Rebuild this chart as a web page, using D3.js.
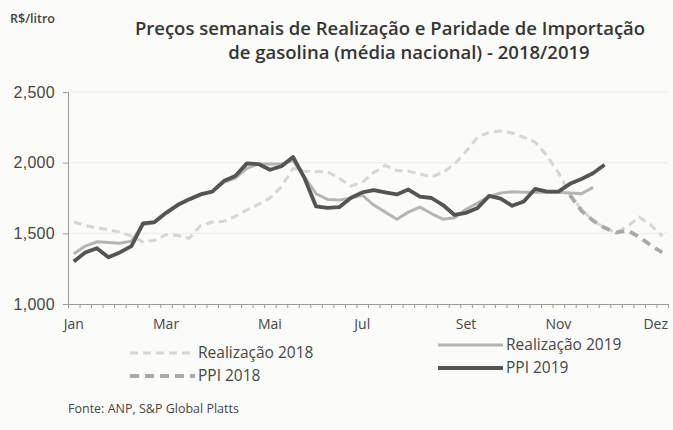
<!DOCTYPE html>
<html>
<head>
<meta charset="utf-8">
<script src="https://cdn.jsdelivr.net/npm/d3@7"></script>
<style>
  body { margin: 0; background: #fbfbf9; }
  svg { display: block; font-family: "Open Sans", "Noto Sans", sans-serif; }
</style>
</head>
<body>
<div id="chart"></div>
<script>
const weeks = d3.range(1, 53);
const monthLabels = ["Jan", "Mar", "Mai", "Jul", "Set", "Nov", "Dez"];
const monthWeeks = [1, 9, 18, 26, 35, 43, 52];
const yTicks = [1000, 1500, 2000, 2500];

const realizacao2018 = [
  1580, 1555, 1540, 1525, 1510, 1480, 1440, 1450, 1490, 1485,
  1465, 1555, 1580, 1585, 1620, 1665, 1705, 1750, 1830, 1960,
  1940, 1935, 1935, 1890, 1835, 1860, 1930, 1980, 1945, 1940,
  1920, 1900, 1930, 1990, 2080, 2180, 2215, 2225, 2210, 2180,
  2145, 2050, 1930, 1775, 1670, 1590, 1540, 1505, 1550, 1615,
  1560, 1480,
];
const ppi2018 = [
  null, null, null, null, null, null, null, null, null, null,
  null, null, null, null, null, null, null, null, null, null,
  null, null, null, null, null, null, null, null, null, null,
  null, null, null, null, null, null, null, null, null, null,
  null, null, null, 1770, 1660, 1590, 1540, 1505, 1520, 1475,
  1415, 1365,
];
const realizacao2019 = [
  1355, 1410, 1440, 1435, 1430, 1445, 1560, 1575, 1645, 1705,
  1745, 1780, 1795, 1860, 1890, 1960, 1990, 1990, 1990, 2015,
  1900, 1780, 1740, 1735, 1750, 1770, 1700, 1650, 1600, 1650,
  1685, 1640, 1600, 1610, 1670, 1715, 1760, 1785, 1795, 1790,
  1790, 1790, 1790, 1785, 1780, 1825,
];
const ppi2019 = [
  1300, 1365, 1395, 1330, 1365, 1410, 1570, 1580, 1645, 1700,
  1740, 1775, 1795, 1870, 1905, 1995, 1990, 1950, 1975, 2040,
  1890, 1690, 1680, 1685, 1750, 1790, 1805, 1790, 1775, 1810,
  1760, 1750, 1700, 1630, 1645, 1680, 1765, 1745, 1695, 1725,
  1815, 1795, 1795, 1850, 1885, 1925, 1985,
];

const width = 673;
const height = 430;
const plot = { left: 68, right: 668, top: 92, bottom: 304 };
const textColor = "#464646";

const series = [
  { label: "Realização 2018", values: realizacao2018, color: "#d6d6d4", width: 3, dash: "8 5" },
  { label: "PPI 2018", values: ppi2018, color: "#a9a9a7", width: 3.8, dash: "9 6" },
  { label: "Realização 2019", values: realizacao2019, color: "#b5b5b3", width: 3, dash: null },
  { label: "PPI 2019", values: ppi2019, color: "#545454", width: 3.8, dash: null },
];

const x = d3.scaleBand().domain(weeks).range([plot.left, plot.right]);
const xTick = d3.scaleLinear().domain([0, weeks.length]).range([plot.left, plot.right]);
const y = d3.scaleLinear().domain([1000, 2500]).range([plot.bottom, plot.top]);
const cx = (w) => x(w) + x.bandwidth() / 2;

const svg = d3.select("#chart").append("svg")
  .attr("width", width).attr("height", height)
  .attr("viewBox", `0 0 ${width} ${height}`);

svg.append("rect").attr("width", width).attr("height", height).attr("fill", "#fbfbf9");

// grid
svg.append("g")
  .selectAll("line")
  .data(yTicks.slice(1))
  .join("line")
  .attr("x1", plot.left).attr("x2", plot.right)
  .attr("y1", (d) => y(d)).attr("y2", (d) => y(d))
  .attr("stroke", "#ececea").attr("stroke-width", 1);

// y axis
const yAxis = svg.append("g")
  .attr("transform", `translate(${plot.left},0)`)
  .call(d3.axisLeft(y).tickValues(yTicks).tickSize(5).tickFormat(d3.format(",")));
yAxis.select(".domain").attr("stroke", "#9a9a98");
yAxis.selectAll(".tick line").attr("stroke", "#9a9a98");
yAxis.selectAll("text")
  .attr("fill", textColor).attr("font-size", 16).attr("x", -13)
  .attr("letter-spacing", "0.3px");

// x axis
const xAxis = svg.append("g")
  .attr("transform", `translate(0,${plot.bottom})`)
  .call(d3.axisBottom(xTick).tickValues(d3.range(0, weeks.length + 1)).tickSize(4).tickFormat(""));
xAxis.select(".domain").attr("stroke", "#9a9a98");
xAxis.selectAll(".tick line").attr("stroke", "#9a9a98");

const lastWeek = monthWeeks[monthWeeks.length - 1];
svg.append("g")
  .selectAll("text")
  .data(monthWeeks)
  .join("text")
  .attr("x", (d) => (d === lastWeek ? plot.right : cx(d)))
  .attr("y", 329)
  .attr("text-anchor", (d) => (d === lastWeek ? "end" : "middle"))
  .attr("fill", textColor)
  .attr("font-size", 14)
  .text((d, i) => monthLabels[i]);

// lines
const line = d3.line()
  .defined((d) => d.v != null)
  .x((d) => cx(d.w))
  .y((d) => y(d.v));

svg.append("g")
  .selectAll("path")
  .data(series)
  .join("path")
  .attr("fill", "none")
  .attr("stroke", (s) => s.color)
  .attr("stroke-width", (s) => s.width)
  .attr("stroke-dasharray", (s) => s.dash)
  .attr("stroke-linejoin", "round")
  .attr("d", (s) => line(s.values.map((v, i) => ({ w: weeks[i], v }))));

// legend
const legendPos = [
  { x: 130, y: 353 },
  { x: 130, y: 376 },
  { x: 438, y: 345 },
  { x: 438, y: 368 },
];
const legend = svg.append("g")
  .selectAll("g")
  .data(series)
  .join("g")
  .attr("transform", (s, i) => `translate(${legendPos[i].x},${legendPos[i].y})`);
legend.append("line")
  .attr("x1", 0).attr("x2", 65)
  .attr("stroke", (s) => s.color)
  .attr("stroke-width", (s) => s.width)
  .attr("stroke-dasharray", (s) => s.dash);
legend.append("text")
  .attr("x", 68).attr("dy", "0.35em")
  .attr("fill", textColor).attr("font-size", 15.5)
  .text((s) => s.label);

// header
svg.append("text")
  .attr("x", 10).attr("y", 23)
  .attr("fill", "#444").attr("font-size", 12.5).attr("font-weight", 600)
  .text("R$/litro");

const title = svg.append("text")
  .attr("text-anchor", "middle")
  .attr("fill", "#353535").attr("font-size", 18.5).attr("font-weight", 600);
title.append("tspan").attr("x", 390).attr("y", 35)
  .text("Preços semanais de Realização e Paridade de Importação");
title.append("tspan").attr("x", 409).attr("y", 59)
  .text("de gasolina (média nacional) - 2018/2019");

svg.append("text")
  .attr("x", 68).attr("y", 413)
  .attr("fill", textColor).attr("font-size", 12.5)
  .text("Fonte: ANP, S&P Global Platts");
</script>
</body>
</html>
